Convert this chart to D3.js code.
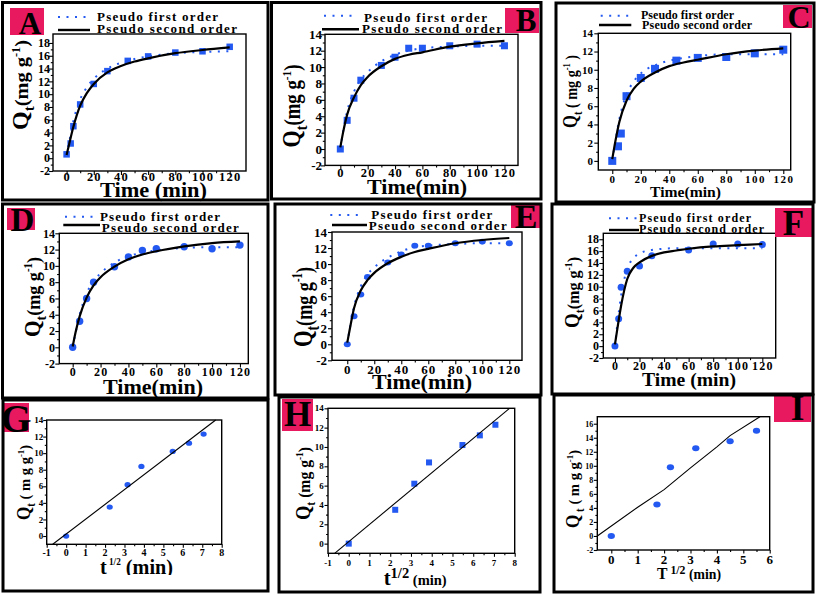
<!DOCTYPE html>
<html><head><meta charset="utf-8">
<script src="https://cdn.jsdelivr.net/npm/d3@7"></script>
<style>
body{margin:0;background:#fff}
svg{display:block}
text{font-family:"Liberation Serif","Times New Roman",serif;font-weight:bold;fill:#000}
</style>
</head><body>
<svg id="chart" width="817" height="595"></svg>
<script>
// ---------------- DATA ----------------
const fitT = [0, 2, 5, 10, 15, 20, 30, 40, 50, 60, 80, 100, 120];

const tA = [0, 3, 5, 10, 20, 30, 45, 60, 80, 100, 120];
const qA = [0.6, 2.3, 5.0, 8.4, 11.6, 13.6, 15.2, 15.9, 16.5, 16.7, 17.4];
const pfoA = [0.4, 2.6, 5.8, 9.2, 11.1, 12.4, 14.0, 14.9, 15.5, 15.9, 16.4, 16.6, 16.7];
const psoA = [0.5, 2.3, 4.9, 8.2, 10.2, 11.6, 13.4, 14.4, 15.1, 15.6, 16.4, 16.9, 17.3];

const tB = [0, 5, 10, 15, 30, 40, 50, 60, 80, 100, 120];
const qB = [0, 3.5, 6.2, 8.4, 10.2, 11.2, 12.3, 12.3, 12.6, 12.8, 12.6];
const pfoB = [0, 2.1, 4.6, 7.0, 8.5, 9.4, 10.7, 11.5, 12.0, 12.3, 12.5, 12.6, 12.6];
const psoB = [0.2, 2.0, 4.2, 6.3, 7.8, 8.8, 10.1, 11.0, 11.5, 11.8, 12.5, 12.9, 13.2];

const tC = [0, 4, 6, 10, 20, 30, 45, 60, 80, 100, 120];
const qC = [0, 1.6, 3.0, 7.1, 9.1, 10.1, 11.0, 11.3, 11.4, 11.8, 12.2];
const pfoC = [0, 2.0, 4.6, 7.3, 8.7, 9.6, 10.5, 11.0, 11.3, 11.5, 11.7, 11.7, 11.7];
const psoC = [0.2, 2.0, 4.3, 6.6, 7.9, 8.7, 9.7, 10.4, 10.8, 11.1, 11.7, 12.1, 12.35];

const tD = [0, 5, 10, 15, 30, 40, 50, 60, 80, 100, 120];
const qD = [0, 3.2, 6.0, 8.0, 9.9, 11.1, 11.9, 12.1, 12.35, 12.1, 12.55];
const pfoD = [0, 1.7, 4.0, 6.6, 8.1, 9.1, 10.4, 11.2, 11.6, 11.9, 12.2, 12.3, 12.3];
const psoD = [0.1, 1.8, 3.8, 6.1, 7.6, 8.6, 9.9, 10.8, 11.4, 11.8, 12.4, 12.8, 13.0];

const tE = [0, 5, 10, 15, 30, 40, 50, 60, 80, 100, 120];
const qE = [0, 3.5, 6.2, 8.4, 10.2, 11.2, 12.3, 12.3, 12.6, 12.8, 12.6];
const pfoE = [0, 2.1, 4.7, 7.2, 8.7, 9.6, 10.8, 11.6, 12.1, 12.3, 12.5, 12.6, 12.6];
const psoE = [0.2, 2.0, 4.5, 6.7, 8.0, 8.9, 10.1, 10.9, 11.5, 11.9, 12.6, 13.0, 13.25];

const tF = [0, 3, 5, 10, 20, 30, 60, 80, 100, 120];
const qF = [0, 4.6, 9.9, 12.6, 13.5, 15.2, 16.2, 17.2, 17.2, 17.1];
const pfoF = [0, 3.8, 8.5, 13.0, 14.8, 15.6, 16.2, 16.4, 16.5, 16.5, 16.5, 16.5, 16.5];
const psoF = [0.3, 3.0, 6.8, 11.3, 13.2, 14.1, 15.2, 15.8, 16.1, 16.4, 16.8, 17.0, 17.2];

const rootG = [0, 2.24, 3.16, 3.87, 5.48, 6.32, 7.07];
const qG = [0, 3.5, 6.2, 8.4, 10.2, 11.2, 12.3];
const lineGx = [-0.69, 7.69];
const lineGy = [-1, 14];

const rootH = [0, 2.24, 3.16, 3.87, 5.48, 6.32, 7.07];
const qH = [0, 3.5, 6.2, 8.4, 10.2, 11.2, 12.3];
const lineHx = [-0.68, 7.75];
const lineHy = [-1, 14];

const rootI = [0, 1.73, 2.24, 3.2, 4.5, 5.5];
const qI = [0, 4.5, 9.8, 12.5, 13.5, 15.0];
const lineIx = [-0.53, 1.0, 2.0, 3.0, 4.0, 4.5, 5.63];
const lineIy = [0, 4.1, 6.6, 9.7, 12.7, 14.3, 17.0];

// tick labels
const xTicksTime = [0, 20, 40, 60, 80, 100, 120];
const yTicks18 = [-2, 0, 2, 4, 6, 8, 10, 12, 14, 16, 18];
const yTicks14 = [-2, 0, 2, 4, 6, 8, 10, 12, 14];
const yTicksC = [0, 2, 4, 6, 8, 10, 12, 14];
const xTicksRoot = [-1, 0, 1, 2, 3, 4, 5, 6, 7, 8];
const yTicksGH = [0, 2, 4, 6, 8, 10, 12, 14];
const xTicksI = [0, 1, 2, 3, 4, 5, 6];
const yTicksI = [-2, 0, 2, 4, 6, 8, 10, 12, 14, 16];

const legendLabels = ["Pseudo first order", "Pseudo second order"];

// ---------------- STYLE / LAYOUT ----------------
const BLUE = "#2359f0", PINK = "#e8195f";
const svg = d3.select("#chart");
const defs = svg.append("defs");

function minorOf(arr) { return d3.pairs(arr).map(([a, b]) => (a + b) / 2); }

function drawPanel(L, D) {
  const g = svg.append("g");
  const x = d3.scaleLinear().domain(L.xd).range([L.l, L.r]);
  const y = d3.scaleLinear().domain(L.yd).range([L.b, L.t]);

  const ax = (axis, tr, vals, size) => {
    const a = g.append("g").attr("transform", tr)
      .call(axis.tickValues(vals).tickFormat("").tickSize(size));
    a.select(".domain").remove();
    a.selectAll("line").attr("stroke", "#000").attr("stroke-width", 1.1);
  };
  ax(d3.axisBottom(x), `translate(0,${L.b})`, D.xticks, L.tk);
  ax(d3.axisBottom(x), `translate(0,${L.b})`, minorOf(D.xticks), L.tk * 0.55);
  ax(d3.axisLeft(y), `translate(${L.l},0)`, D.yticks, L.tk);
  ax(d3.axisLeft(y), `translate(${L.l},0)`, minorOf(D.yticks), L.tk * 0.55);

  g.append("rect").attr("x", L.l).attr("y", L.t).attr("width", L.r - L.l).attr("height", L.b - L.t)
    .attr("fill", "none").attr("stroke", "#000").attr("stroke-width", 1.4);

  g.append("g").selectAll("text").data(D.xticks).join("text")
    .attr("x", d => x(d) + (L.xls || 0) / 2).attr("y", L.xlb)
    .attr("text-anchor", "middle").attr("font-size", L.xfs)
    .attr("letter-spacing", L.xls || 0).text(d => d);
  g.append("g").selectAll("text").data(D.yticks).join("text")
    .attr("x", L.ylr).attr("y", d => y(d)).attr("dy", "0.35em")
    .attr("text-anchor", "end").attr("font-size", L.yfs).text(d => d);

  // points
  const pts = d3.zip(D.px, D.py);
  if (L.shape === "square") {
    g.append("g").selectAll("rect").data(pts).join("rect")
      .attr("x", d => x(d[0]) - L.ms / 2).attr("y", d => y(d[1]) - L.ms / 2)
      .attr("width", L.ms).attr("height", L.ms).attr("fill", BLUE);
  } else {
    g.append("g").selectAll("ellipse").data(pts).join("ellipse")
      .attr("cx", d => x(d[0])).attr("cy", d => y(d[1]))
      .attr("rx", L.ms / 2).attr("ry", L.ms / 2 * (L.ell || 1)).attr("fill", BLUE);
  }

  const smooth = d3.line().x(d => x(d[0])).y(d => y(d[1])).curve(d3.curveMonotoneX);
  const straight = d3.line().x(d => x(d[0])).y(d => y(d[1]));
  if (D.pfo) {
    g.append("path").attr("d", smooth(d3.zip(D.fx, D.pfo)))
      .attr("fill", "none").attr("stroke", BLUE).attr("stroke-width", 2)
      .attr("stroke-dasharray", "2,6.5");
  }
  if (D.pso) {
    g.append("path").attr("d", smooth(d3.zip(D.fx, D.pso)))
      .attr("fill", "none").attr("stroke", "#000").attr("stroke-width", 2.2);
  }
  if (D.lx) {
    g.append("path").attr("d", straight(d3.zip(D.lx, D.ly)))
      .attr("fill", "none").attr("stroke", "#000").attr("stroke-width", 1.1);
  }

  // legend
  if (L.leg) {
    const lg = L.leg;
    g.append("line").attr("x1", lg.d[0]).attr("x2", lg.d[1]).attr("y1", lg.d[2]).attr("y2", lg.d[2])
      .attr("stroke", BLUE).attr("stroke-width", 2).attr("stroke-dasharray", "2,6.5");
    g.append("line").attr("x1", lg.s[0]).attr("x2", lg.s[1]).attr("y1", lg.s[2]).attr("y2", lg.s[2])
      .attr("stroke", "#000").attr("stroke-width", 2.4);
    [lg.t1, lg.t2].forEach((t, i) => {
      g.append("text").attr("x", t.x).attr("y", t.y).attr("font-size", t.fs)
        .attr("textLength", t.len).attr("lengthAdjust", "spacing").text(legendLabels[i]);
    });
  }

  // y title
  const yt = L.yt;
  const yText = g.append("text").attr("transform", `translate(${yt.x},${yt.y}) rotate(-90)`)
    .attr("x", -yt.len / 2).attr("textLength", yt.len).attr("lengthAdjust", "spacingAndGlyphs");
  const m = yt.q * 0.85;
  yText.append("tspan").attr("font-size", yt.q).text("Q");
  yText.append("tspan").attr("font-size", m * 0.75).attr("dy", m * 0.3).text(yt.sub || "t");
  yText.append("tspan").attr("font-size", m).attr("dy", -m * 0.3).text(yt.mid || "(mg g");
  yText.append("tspan").attr("font-size", m * 0.6).attr("dy", -m * 0.4).text("-1");
  yText.append("tspan").attr("font-size", m).attr("dy", m * 0.4).text(yt.close || ")");

  // x title
  const xt = L.xt;
  const xText = g.append("text").attr("x", xt.x).attr("y", xt.y)
    .attr("textLength", xt.len).attr("lengthAdjust", "spacingAndGlyphs");
  if (xt.clip) {
    const id = "clip" + L.id;
    defs.append("clipPath").attr("id", id).append("rect")
      .attr("x", 0).attr("y", 0).attr("width", 817).attr("height", xt.clip);
    xText.attr("clip-path", `url(#${id})`);
  }
  if (xt.text) {
    xText.attr("font-size", xt.fs).text(xt.text);
  } else {
    xText.append("tspan").attr("font-size", xt.fs).text(xt.v);
    xText.append("tspan").attr("font-size", xt.sfs).attr("dy", -xt.sup).text(xt.sp);
    xText.append("tspan").attr("font-size", xt.mfs).attr("dy", xt.sup).text(" (min)");
  }

  // letter label
  const lb = L.lab;
  g.append("rect").attr("x", lb.box[0]).attr("y", lb.box[1])
    .attr("width", lb.box[2] - lb.box[0]).attr("height", lb.box[3] - lb.box[1]).attr("fill", PINK);
  g.append("text").attr("x", lb.cx).attr("y", lb.by).attr("text-anchor", "middle")
    .attr("font-size", lb.fs).text(L.id);

  // frame
  g.append("rect").attr("x", L.frame[0]).attr("y", L.frame[1])
    .attr("width", L.frame[2] - L.frame[0]).attr("height", L.frame[3] - L.frame[1])
    .attr("fill", "none").attr("stroke", "#000").attr("stroke-width", 3);
}

const layouts = [
  { id: "A", frame: [2.5, 2.5, 268, 200], l: 53, r: 246, t: 34, b: 171, xd: [-10, 132], yd: [-2, 19.4],
    xlb: 181, xfs: 12.5, xls: 1.2, ylr: 50, yfs: 12, tk: 4, shape: "square", ms: 6.5,
    leg: { d: [58, 90, 17], s: [58, 90, 30], t1: { x: 97, y: 21, len: 121, fs: 13 }, t2: { x: 97, y: 32.5, len: 140, fs: 13 } },
    yt: { x: 28, y: 85, len: 90, q: 23 },
    xt: { x: 100, y: 197, len: 107, fs: 20, text: "Time (min)" },
    lab: { box: [10, 8, 44, 35], cx: 30, by: 33.5, fs: 31 } },
  { id: "B", frame: [271.5, 2.5, 541, 199], l: 325, r: 518, t: 34.3, b: 165.4, xd: [-11.2, 129.9], yd: [-2, 14],
    xlb: 176.5, xfs: 12.5, xls: 1.2, ylr: 322, yfs: 13, tk: 4, shape: "square", ms: 7,
    leg: { d: [324, 355, 15.7], s: [322, 359, 29.3], t1: { x: 364, y: 21.5, len: 123, fs: 13 }, t2: { x: 362, y: 33, len: 140, fs: 13 } },
    yt: { x: 300, y: 106, len: 83, q: 26 },
    xt: { x: 367, y: 194, len: 100, fs: 21, text: "Time(min)" },
    lab: { box: [505, 8, 539, 33], cx: 526, by: 31, fs: 31 } },
  { id: "C", frame: [556, 3, 814, 202], l: 598.3, r: 790.7, t: 33.3, b: 170, xd: [-9.8, 125.2], yd: [-1, 14],
    xlb: 182.5, xfs: 11, xls: 1.5, ylr: 593, yfs: 11, tk: 4, shape: "square", ms: 8,
    leg: { d: [600.7, 632.3, 15.7], s: [599, 631.3, 25], t1: { x: 641, y: 19, len: 93, fs: 12 }, t2: { x: 642, y: 29, len: 110, fs: 12 } },
    yt: { x: 577, y: 91.5, len: 73, q: 20, mid: " ( mg g", close: " )" },
    xt: { x: 650, y: 197, len: 71, fs: 15, text: "Time(min)" },
    lab: { box: [783, 5, 812, 28], cx: 799, by: 28, fs: 32 } },
  { id: "D", frame: [2.5, 204, 268, 398], l: 59.3, r: 248.3, t: 233.3, b: 363.6, xd: [-9.6, 126], yd: [-2, 14],
    xlb: 375.5, xfs: 12, xls: 1.2, ylr: 55, yfs: 12, tk: 4, shape: "circle", ms: 7.4,
    leg: { d: [65, 96.7, 216.7], s: [63.3, 100, 225], t1: { x: 100, y: 221, len: 120, fs: 13 }, t2: { x: 101.7, y: 232, len: 137, fs: 13 } },
    yt: { x: 40, y: 297, len: 80, q: 23 },
    xt: { x: 103, y: 394, len: 100, fs: 21, text: "Time(min)" },
    lab: { box: [7, 208, 35, 230], cx: 22.5, by: 230.5, fs: 33 } },
  { id: "E", frame: [275, 204, 541, 395], l: 332, r: 522, t: 232, b: 360.3, xd: [-11.3, 129.4], yd: [-2, 14],
    xlb: 374, xfs: 13, xls: 1.2, ylr: 327, yfs: 13, tk: 4, shape: "circle", ms: 7, ell: 0.85,
    leg: { d: [330.3, 360.3, 215], s: [332, 367, 225], t1: { x: 371.3, y: 219, len: 121, fs: 13 }, t2: { x: 368.7, y: 229.5, len: 138, fs: 13 } },
    yt: { x: 312, y: 307, len: 80, q: 28 },
    xt: { x: 372, y: 389, len: 100, fs: 20, text: "Time(min)" },
    lab: { box: [511, 205, 540, 228], cx: 526, by: 228, fs: 34 } },
  { id: "F", frame: [552, 204, 813, 394], l: 603.3, r: 775.7, t: 233.3, b: 358, xd: [-9.5, 130.9], yd: [-2, 19],
    xlb: 369.5, xfs: 12, xls: 1.2, ylr: 599, yfs: 12, tk: 4, shape: "circle", ms: 7,
    leg: { d: [609, 637.3, 218.3], s: [609, 639, 230], t1: { x: 639, y: 222, len: 112, fs: 12 }, t2: { x: 639, y: 233, len: 125, fs: 12 } },
    yt: { x: 579, y: 292.5, len: 71, q: 20 },
    xt: { x: 642, y: 386, len: 94, fs: 19, text: "Time (min)" },
    lab: { box: [775, 208, 812, 237], cx: 793.5, by: 235, fs: 35 } },
  { id: "G", frame: [3, 400, 268, 591], l: 46.7, r: 221.7, t: 420, b: 544.3, xd: [-1, 8], yd: [-1, 14],
    xlb: 556, xfs: 10, ylr: 43.3, yfs: 9, tk: 3.5, shape: "circle", ms: 6.2, ell: 0.85,
    yt: { x: 30, y: 482.5, len: 75, q: 18, mid: " ( m g g" },
    xt: { x: 100, y: 574, len: 73, fs: 22, v: "t", sp: " 1/2", sfs: 10, sup: 9, mfs: 22, clip: 575 },
    lab: { box: [3, 403, 29, 432], cx: 16, by: 431.5, fs: 40 } },
  { id: "H", frame: [279, 397, 540, 592], l: 328, r: 514.7, t: 408.3, b: 553.3, xd: [-1, 8], yd: [-1, 14],
    xlb: 565.7, xfs: 9, ylr: 323.7, yfs: 9, tk: 3.5, shape: "square", ms: 6,
    yt: { x: 310, y: 483.5, len: 73, q: 20, mid: " (mg g" },
    xt: { x: 383.7, y: 585, len: 63, fs: 20, v: "t", sp: "1/2", sfs: 14, sup: 7, mfs: 14 },
    lab: { box: [282, 399, 313, 431], cx: 297.5, by: 426, fs: 35 } },
  { id: "I", frame: [554, 395, 813, 592], l: 597.3, r: 769.7, t: 416.7, b: 550, xd: [-0.53, 6], yd: [-2, 17],
    xlb: 564, xfs: 13, ylr: 593.3, yfs: 8, tk: 3.5, shape: "circle", ms: 7.3, ell: 0.82,
    yt: { x: 579, y: 489, len: 78, q: 18, sub: " t", mid: " ( m g g" },
    xt: { x: 657, y: 579, len: 64, fs: 16, v: "T", sp: " 1/2", sfs: 12, sup: 5, mfs: 14 },
    lab: { box: [774, 395, 811, 422], cx: 797.5, by: 420, fs: 35 } }
];

const datasets = {
  A: { px: tA, py: qA, fx: fitT, pfo: pfoA, pso: psoA, xticks: xTicksTime, yticks: yTicks18 },
  B: { px: tB, py: qB, fx: fitT, pfo: pfoB, pso: psoB, xticks: xTicksTime, yticks: yTicks14 },
  C: { px: tC, py: qC, fx: fitT, pfo: pfoC, pso: psoC, xticks: xTicksTime, yticks: yTicksC },
  D: { px: tD, py: qD, fx: fitT, pfo: pfoD, pso: psoD, xticks: xTicksTime, yticks: yTicks14 },
  E: { px: tE, py: qE, fx: fitT, pfo: pfoE, pso: psoE, xticks: xTicksTime, yticks: yTicks14 },
  F: { px: tF, py: qF, fx: fitT, pfo: pfoF, pso: psoF, xticks: xTicksTime, yticks: yTicks18 },
  G: { px: rootG, py: qG, lx: lineGx, ly: lineGy, xticks: xTicksRoot, yticks: yTicksGH },
  H: { px: rootH, py: qH, lx: lineHx, ly: lineHy, xticks: xTicksRoot, yticks: yTicksGH },
  I: { px: rootI, py: qI, lx: lineIx, ly: lineIy, xticks: xTicksI, yticks: yTicksI }
};

layouts.forEach(L => drawPanel(L, datasets[L.id]));
</script>
</body></html>
